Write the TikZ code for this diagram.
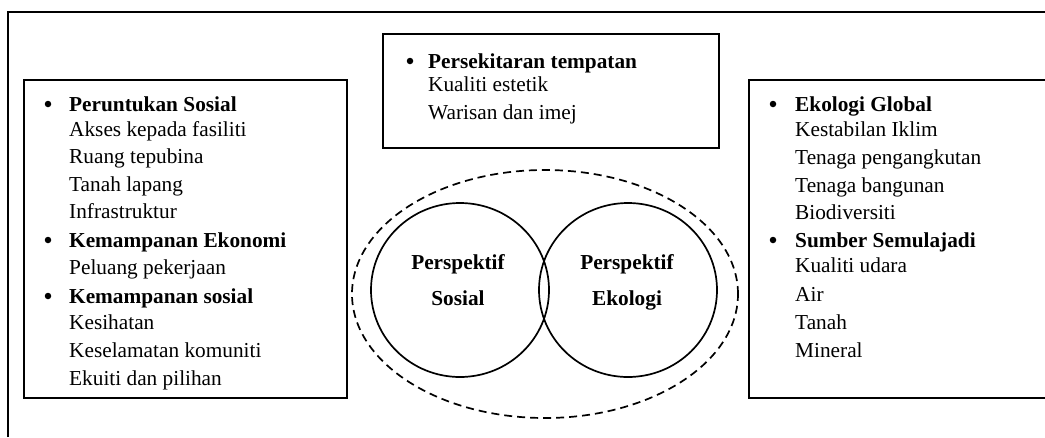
\documentclass[tikz,border=0pt]{standalone}
\usepackage{fontspec}
\setmainfont{Liberation Serif}
\usetikzlibrary{shapes.geometric}
\begin{document}
\begin{tikzpicture}[x=1pt,y=-1pt,
  txt/.style={anchor=base west, inner sep=0pt, font=\fontsize{21.3}{25}\selectfont},
  hd/.style={anchor=base west, inner sep=0pt, font=\fontsize{21.3}{25}\selectfont\bfseries},
  bul/.style={circle, fill=black, inner sep=0pt, minimum size=6.5pt},
  frameline/.style={line width=2pt},
  boxline/.style={line width=2pt},
  ring/.style={ellipse, draw, line width=1.7pt, minimum width=178pt, minimum height=174pt, inner sep=0pt},
  outer/.style={line width=1.7pt, dash pattern=on 8pt off 5pt},
]
\useasboundingbox (0,0) rectangle (1045,437);
% outer frame (top and left only)
\draw[frameline] (8,437) -- (8,12) -- (1045,12);

% boxes
\draw[boxline] (24,80) rectangle (347,398);
\draw[boxline] (383,34) rectangle (719,148);
\draw[boxline] (1045,80) -- (749,80) -- (749,398) -- (1045,398);

% top box
\node[bul] (tb1) at (410,61) {};
\node[hd]  (t1) at (428,68) {Persekitaran tempatan};
\node[txt] (t2) at (428,91) {Kualiti estetik};
\node[txt] (t3) at (428,119) {Warisan dan imej};

% left box
\begin{scope}
\clip (24,80) rectangle (347,389);
\node[bul] (lb1) at (48,104) {};
\node[hd]  (l1)  at (69,111) {Peruntukan Sosial};
\node[txt] (l2)  at (69,136) {Akses kepada fasiliti};
\node[txt] (l3)  at (69,163) {Ruang tepubina};
\node[txt] (l4)  at (69,191) {Tanah lapang};
\node[txt] (l5)  at (69,218) {Infrastruktur};
\node[bul] (lb2) at (48,240) {};
\node[hd]  (l6)  at (69,247) {Kemampanan Ekonomi};
\node[txt] (l7)  at (69,274) {Peluang pekerjaan};
\node[bul] (lb3) at (48,296) {};
\node[hd]  (l8)  at (69,303) {Kemampanan sosial};
\node[txt] (l9)  at (69,329) {Kesihatan};
\node[txt] (l10) at (69,357) {Keselamatan komuniti};
\node[txt] (l11) at (69,385) {Ekuiti dan pilihan};
\end{scope}

% right box
\node[bul] (rb1) at (773,104) {};
\node[hd]  (r1)  at (795,111) {Ekologi Global};
\node[txt] (r2)  at (795,136) {Kestabilan Iklim};
\node[txt] (r3)  at (795,164) {Tenaga pengangkutan};
\node[txt] (r4)  at (795,192) {Tenaga bangunan};
\node[txt] (r5)  at (795,219) {Biodiversiti};
\node[bul] (rb2) at (773,240) {};
\node[hd]  (r6)  at (795,247) {Sumber Semulajadi};
\node[txt] (r7)  at (795,272) {Kualiti udara};
\node[txt] (r8)  at (795,301) {Air};
\node[txt] (r9)  at (795,329) {Tanah};
\node[txt] (r10) at (795,357) {Mineral};

% centre diagram
\draw[outer] (545,294) ellipse [x radius=193pt, y radius=124pt];
\node[ring] (soc) at (460,290) {};
\node[ring] (eko) at (628,290) {};
\node[hd, anchor=base] (s1) at (458,269) {Perspektif};
\node[hd, anchor=base] (s2) at (458,305) {Sosial};
\node[hd, anchor=base] (e1) at (627,269) {Perspektif};
\node[hd, anchor=base] (e2) at (627,305) {Ekologi};
\end{tikzpicture}
\end{document}
